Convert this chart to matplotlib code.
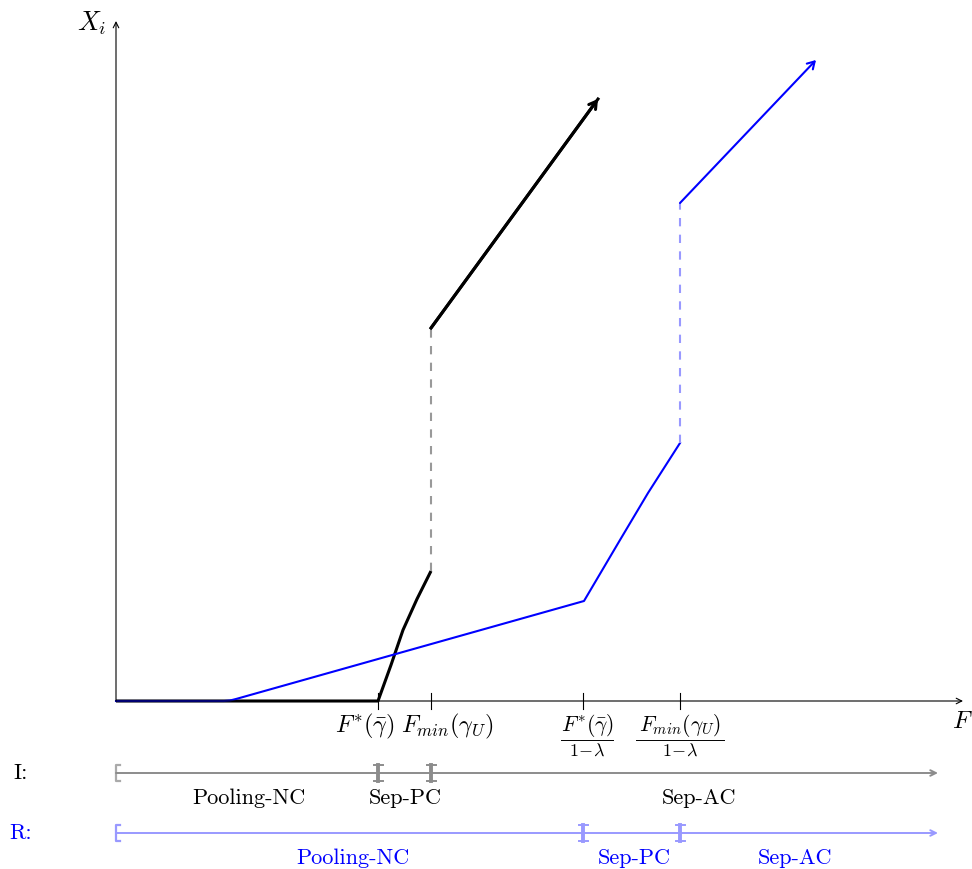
import numpy as np
import matplotlib.pyplot as plt

plt.rcParams['mathtext.fontset'] = 'cm'
plt.rcParams['axes.unicode_minus'] = False

# thresholds on the F axis
F_star = 2.62
F_min = 3.15
F_star_R = 4.67
F_min_R = 5.64

# informed investor (black)
I_low_F = [0.0, 2.62, 2.75, 2.87, 3.01, 3.15]
I_low_X = [0.0, 0.0, 0.36, 0.71, 1.02, 1.30]
I_high_F = [3.15, 4.82]
I_high_X = [3.73, 6.02]

# rational investor (blue)
R_low_F = [0.0, 1.08, 1.14, 1.20, 4.68, 5.04, 5.32, 5.64]
R_low_X = [0.0, 0.0, 0.005, 0.02, 1.00, 1.61, 2.08, 2.58]
R_high_F = [5.64, 7.00]
R_high_X = [4.98, 6.41]

regime_names = ['Pooling-NC', 'Sep-PC', 'Sep-AC']
I_label_F = [1.33, 2.89, 5.83]
R_label_F = [2.37, 5.18, 6.79]

fig = plt.figure(figsize=(9.72, 8.69), dpi=100)
ax = fig.add_axes([0, 0, 1, 1])
ax.set_xlim(-1.16, 8.56)
ax.set_ylim(-1.68, 7.01)
ax.axis('off')

# axes
ax.annotate('', xy=(8.47, 0), xytext=(0, 0),
            arrowprops=dict(arrowstyle='->', lw=0.8, color='black', shrinkA=0, shrinkB=0))
ax.annotate('', xy=(0, 6.80), xytext=(0, 0),
            arrowprops=dict(arrowstyle='->', lw=0.8, color='black', shrinkA=0, shrinkB=0))
ax.text(-0.24, 6.78, r'$X_i$', fontsize=19, ha='center', va='center')
ax.text(8.46, -0.20, r'$F$', fontsize=18, ha='center', va='center')

# ticks
for f in [F_star, F_min, F_star_R, F_min_R]:
    ax.plot([f, f], [-0.08, 0.08], color='black', lw=0.8)
ax.text(F_star - 0.135, -0.25, r'$F^{*}(\bar{\gamma})$', fontsize=17.5, ha='center', va='center')
ax.text(F_min + 0.16, -0.25, r'$F_{min}(\gamma_U)$', fontsize=17.5, ha='center', va='center')


def frac_label(x, num, width):
    ax.text(x, -0.245, num, fontsize=15.5, ha='center', va='center')
    ax.plot([x - width / 2, x + width / 2], [-0.385, -0.385], color='black', lw=0.7)
    ax.text(x, -0.50, r'$1\!-\!\lambda$', fontsize=13, ha='center', va='center')


frac_label(F_star_R + 0.04, r'$F^{*}(\bar{\gamma})$', 0.52)
frac_label(F_min_R, r'$F_{min}(\gamma_U)$', 0.88)

# black curve
ax.plot(I_low_F, I_low_X, color='black', lw=2.2, solid_capstyle='butt', solid_joinstyle='round')
ax.plot([F_min, F_min], [I_low_X[-1], I_high_X[0]], color='#999999', lw=1.5, ls=(0, (4, 4)))
ax.plot(I_high_F, I_high_X, color='black', lw=2.2)
ax.annotate('', xy=(I_high_F[1], I_high_X[1]), xytext=(I_high_F[0], I_high_X[0]),
            arrowprops=dict(arrowstyle='->,head_length=0.5,head_width=0.3', lw=2.2,
                            color='black', shrinkA=0, shrinkB=0))

# blue curve
ax.plot(R_low_F, R_low_X, color='blue', lw=1.5, solid_joinstyle='round')
ax.plot([F_min_R, F_min_R], [R_low_X[-1], R_high_X[0]], color='#9999ff', lw=1.5, ls=(0, (4, 4)))
ax.annotate('', xy=(R_high_F[1], R_high_X[1]), xytext=(R_high_F[0], R_high_X[0]),
            arrowprops=dict(arrowstyle='->,head_length=0.5,head_width=0.3', lw=1.5,
                            color='blue', shrinkA=0, shrinkB=0))


def regime_bar(y, cuts, color, light, label, label_color, names, name_pos):
    ax.annotate('', xy=(8.22, y), xytext=(0, y),
                arrowprops=dict(arrowstyle='->', lw=1.4, color=color, shrinkA=0, shrinkB=0))
    ax.plot([0.04, 0, 0, 0.04], [y + 0.08, y + 0.08, y - 0.08, y - 0.08], color=light, lw=1.6)
    for c in cuts:
        ax.plot([c, c], [y - 0.08, y + 0.08], color=color, lw=2.8)
        ax.plot([c - 0.045, c + 0.045], [y + 0.08, y + 0.08], color=color, lw=1.4)
        ax.plot([c - 0.045, c + 0.045], [y - 0.08, y - 0.08], color=color, lw=1.4)
    ax.text(-0.95, y, label, fontsize=16, family='cmr10', color=label_color, ha='center', va='center')
    for n, p in zip(names, name_pos):
        ax.text(p, y - 0.255, n, fontsize=16, family='cmr10', color=label_color,
                ha='center', va='center')


regime_bar(-0.72, [F_star, F_min], '#8c8c8c', '#aaaaaa', 'I:', 'black', regime_names, I_label_F)
regime_bar(-1.32, [F_star_R, F_min_R], '#9999ff', '#9999ff', 'R:', 'blue', regime_names, R_label_F)

fig.savefig('out.png', dpi=100)
